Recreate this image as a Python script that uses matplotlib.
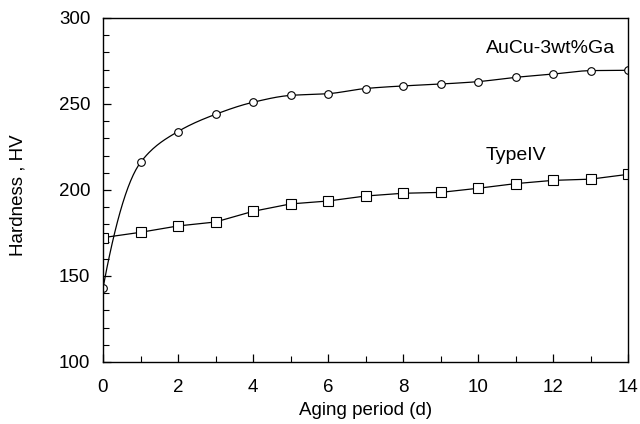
import numpy as np
import matplotlib
matplotlib.use("Agg")
import matplotlib.pyplot as plt
from matplotlib.ticker import MultipleLocator

plt.rcParams['font.family'] = ['Liberation Sans', 'DejaVu Sans']

days = [0, 1, 2, 3, 4, 5, 6, 7, 8, 9, 10, 11, 12, 13, 14]
aucu_ga = [143, 216, 234, 244, 251, 255, 256, 259, 260.5, 261.6, 263, 265.5, 267.4, 269.4, 269.6]
type_iv = [172.3, 175.4, 179.1, 181.4, 187.6, 191.9, 193.6, 196.5, 198.1, 198.6, 201, 203.7, 205.6, 206.3, 209.1]


def pchip(x, y, xn):
    x = np.asarray(x, float); y = np.asarray(y, float)
    h = np.diff(x); d = np.diff(y) / h
    m = np.zeros_like(y)
    for k in range(1, len(x) - 1):
        if d[k - 1] * d[k] > 0:
            w1 = 2 * h[k] + h[k - 1]; w2 = h[k] + 2 * h[k - 1]
            m[k] = (w1 + w2) / (w1 / d[k - 1] + w2 / d[k])
    m[0] = d[0] * 1.6
    m[-1] = d[-1]
    out = np.empty_like(xn)
    for i, xv in enumerate(xn):
        k = min(np.searchsorted(x, xv, side='right') - 1, len(x) - 2)
        t = (xv - x[k]) / h[k]
        h00 = 2*t**3 - 3*t**2 + 1; h10 = t**3 - 2*t**2 + t
        h01 = -2*t**3 + 3*t**2; h11 = t**3 - t**2
        out[i] = h00*y[k] + h10*h[k]*m[k] + h01*y[k+1] + h11*h[k]*m[k+1]
    return out


fig = plt.figure(figsize=(6.4, 4.24), dpi=100)
ax = fig.add_axes([103/640, 1 - 362/424, 525/640, 344/424])

xs = np.linspace(0, 14, 400)
ax.plot(xs, pchip(days, aucu_ga, xs), color='black', lw=0.9)
ax.plot(days, aucu_ga, 'o', mfc='white', mec='black', ms=5.5, mew=0.8)
ax.plot(days, type_iv, '-s', color='black', mfc='white', mec='black', ms=6.5, mew=0.8, lw=0.9)

ax.set_xlim(0, 14)
ax.set_ylim(100, 300)
ax.xaxis.set_major_locator(MultipleLocator(2))
ax.xaxis.set_minor_locator(MultipleLocator(1))
ax.yaxis.set_major_locator(MultipleLocator(50))
ax.yaxis.set_minor_locator(MultipleLocator(10))
ax.tick_params(which='both', direction='in', top=False, right=False, labelsize=13.5)
ax.tick_params(which='major', length=6, width=0.9)
ax.tick_params(which='minor', length=4, width=0.8)
ax.tick_params(axis='x', pad=12)
ax.tick_params(axis='y', pad=9)
for s in ax.spines.values():
    s.set_linewidth(1.0)

ax.set_xlabel('Aging period (d)', fontsize=13.5)
ax.set_ylabel('Hardness , HV', fontsize=13.5)
ax.xaxis.set_label_coords(0.5, -0.115)
ax.yaxis.set_label_coords(-0.145, 0.485)

ax.text(10.2, 282, 'AuCu-3wt%Ga', fontsize=14, va='center', ha='left')
ax.text(10.2, 220.3, 'TypeIV', fontsize=14, va='center', ha='left')

fig.savefig('out.png', dpi=100)
